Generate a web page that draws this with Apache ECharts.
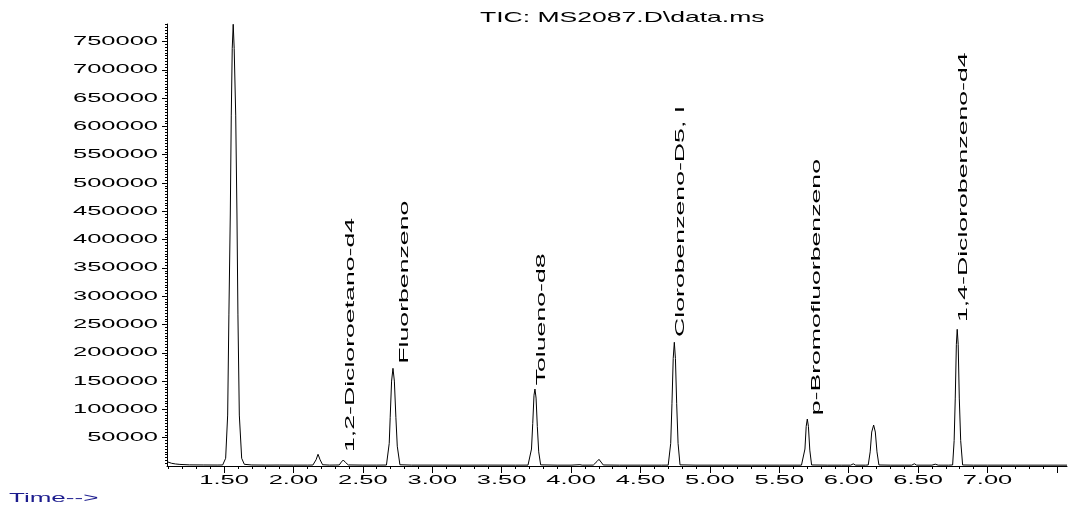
<!DOCTYPE html>
<html>
<head>
<meta charset="utf-8">
<script src="https://cdn.jsdelivr.net/npm/echarts@6/dist/echarts.min.js"></script>
<style>
  html, body { margin: 0; padding: 0; background: #fff; }
  #chart { width: 1069px; height: 506px; }
</style>
</head>
<body>
<div id="chart"></div>
<script>
// Total ion chromatogram, retention time (min) vs. abundance
const times = [
  1.089, 1.100, 1.122, 1.150, 1.182, 1.250, 1.350, 1.450, 1.490,
  1.500, 1.5115, 1.526, 1.535, 1.545, 1.552, 1.559, 1.566, 1.573, 1.584, 1.593, 1.600, 1.610, 1.627, 1.646, 1.700,
  1.800, 1.900, 2.000, 2.100, 2.140,
  2.148, 2.163, 2.177, 2.192, 2.210, 2.260, 2.300,
  2.330, 2.345, 2.359, 2.374, 2.395, 2.500, 2.600, 2.670,
  2.676, 2.690, 2.697, 2.707, 2.717, 2.727, 2.738, 2.748, 2.767, 2.850, 3.000, 3.200, 3.400, 3.600, 3.690,
  3.703, 3.715, 3.724, 3.733, 3.740, 3.748, 3.757, 3.767, 3.781, 3.900, 4.000, 4.064, 4.080, 4.160,
  4.172, 4.187, 4.201, 4.216, 4.232, 4.350, 4.500, 4.650, 4.700,
  4.707, 4.718, 4.727, 4.736, 4.744, 4.752, 4.761, 4.771, 4.785, 4.900, 5.100, 5.300, 5.500, 5.660,
  5.673, 5.685, 5.694, 5.702, 5.710, 5.720, 5.733, 5.850, 5.950, 6.015, 6.033, 6.050, 6.120,
  6.141, 6.155, 6.166, 6.180, 6.192, 6.204, 6.218, 6.300, 6.400, 6.455, 6.473, 6.490, 6.600, 6.624, 6.645, 6.720,
  6.749, 6.760, 6.768, 6.776, 6.782, 6.789, 6.797, 6.807, 6.821, 6.900, 7.000, 7.200, 7.400, 7.573
];
const abundance = [
  7600, 6500, 4800, 3600, 2800, 2000, 1800, 1700, 1800,
  2500, 13600, 90000, 267000, 443500, 620000, 738000, 780500, 738000, 620000, 443500, 267000, 90000, 13600, 3000, 1800,
  1600, 1700, 1600, 1600, 1700,
  2000, 11000, 20700, 11000, 2200, 1600, 1700,
  1800, 7000, 10600, 6500, 1900, 1600, 1600, 1700,
  2000, 40000, 86000, 150000, 172600, 150000, 86000, 35000, 2200, 1600, 1600, 1500, 1600, 1500, 1600,
  1900, 30000, 75000, 125000, 136000, 120000, 70000, 25000, 2000, 1500, 1500, 2300, 1500, 1600,
  1800, 8000, 11800, 7000, 1800, 1500, 1500, 1500, 1600,
  2000, 40000, 110000, 190000, 218600, 190000, 110000, 40000, 2000, 1500, 1500, 1500, 1500, 1500,
  1800, 30000, 70000, 83000, 70000, 28000, 1800, 1500, 1500, 1500, 3800, 1500, 1500,
  1800, 25000, 60000, 72400, 60000, 25000, 1800, 1500, 1500, 1500, 4000, 1500, 1500, 3200, 1500, 1500,
  1800, 45000, 120000, 215000, 241500, 215000, 120000, 45000, 1800, 1500, 1500, 1500, 1500, 1500
];

// Compound names and where each name starts (time, abundance)
const compoundNames = [
  '1,2-Dicloroetano-d4', 'Fluorbenzeno', 'Tolueno-d8',
  'Clorobenzeno-D5, I', 'p-Bromofluorbenzeno', '1,4-Diclorobenzeno-d4'
];
const compoundTimes = [2.364, 2.752, 3.738, 4.740, 5.722, 6.783];
const compoundLevels = [28300, 184300, 146100, 231500, 93100, 258000];

// Axis range and ticks
const timeMin = 1.089, timeMax = 7.573;
const abundanceMax = 781000;
const timeLabels = [1.5, 2.0, 2.5, 3.0, 3.5, 4.0, 4.5, 5.0, 5.5, 6.0, 6.5, 7.0];
const timeMajorTicks = [1.5, 2.0, 2.5, 3.0, 3.5, 4.0, 4.5, 5.0, 5.5, 6.0, 6.5, 7.0, 7.5];
const timeMinorTicks = [];
for (let k = 11; k <= 75; k++) timeMinorTicks.push(k / 10);
const abundanceTicks = [50000, 100000, 150000, 200000, 250000, 300000, 350000, 400000,
  450000, 500000, 550000, 600000, 650000, 700000, 750000];

const FONT = 'Liberation Sans';
const WIDE = 1.96;

const chart = echarts.init(document.getElementById('chart'), null, { renderer: 'canvas' });

const axisBlack = { color: '#000', width: 1 };

chart.setOption({
  animation: false,
  backgroundColor: '#fff',
  grid: { left: 167, right: 2, top: 24, bottom: 40, containLabel: false },
  graphic: [
    {
      type: 'text', x: 480, y: 10, scaleX: 1.83, silent: true,
      style: { text: 'TIC: MS2087.D\\data.ms', fill: '#000', fontFamily: FONT, fontSize: 14.5,
               align: 'left', verticalAlign: 'top' }
    },
    {
      type: 'text', x: 9, y: 492, scaleX: 2.0, silent: true,
      style: { text: 'Time-->', fill: '#1c1c8e', fontFamily: FONT, fontSize: 13,
               align: 'left', verticalAlign: 'top' }
    }
  ],
  xAxis: [
    {
      type: 'value', min: timeMin, max: timeMax,
      axisLine: { show: true, onZero: false, lineStyle: axisBlack },
      axisTick: { show: true, length: 7, lineStyle: axisBlack, customValues: timeMajorTicks },
      axisLabel: { show: false },
      splitLine: { show: false }
    },
    {
      type: 'value', min: timeMin, max: timeMax, position: 'bottom',
      axisLine: { show: false, onZero: false },
      axisTick: { show: true, length: 3, lineStyle: axisBlack, customValues: timeMinorTicks },
      axisLabel: { show: false },
      splitLine: { show: false }
    }
  ],
  yAxis: {
    type: 'value', min: 0, max: abundanceMax, interval: 50000,
    axisLine: { show: true, onZero: false, lineStyle: axisBlack },
    axisTick: { show: true, length: 5, lineStyle: axisBlack, customValues: abundanceTicks },
    minorTick: { show: true, splitNumber: 10, length: 2, lineStyle: axisBlack },
    axisLabel: { show: false },
    splitLine: { show: false },
    minorSplitLine: { show: false }
  },
  series: [
    {
      name: 'TIC',
      type: 'line',
      data: times.map((t, i) => [t, abundance[i]]),
      showSymbol: false,
      symbol: 'none',
      lineStyle: { color: '#000', width: 1 },
      silent: true,
      z: 3
    },
    {
      // abundance tick labels (wide lettering)
      type: 'custom',
      silent: true,
      data: abundanceTicks.map(v => [timeMin, v]),
      renderItem: function (params, api) {
        const p = api.coord([api.value(0), api.value(1)]);
        return {
          type: 'text', x: p[0] - 9, y: p[1], scaleX: WIDE,
          style: { text: String(api.value(1)), fill: '#000', fontFamily: FONT, fontSize: 13,
                   align: 'right', verticalAlign: 'middle' }
        };
      }
    },
    {
      // time tick labels
      type: 'custom',
      silent: true,
      data: timeLabels.map(t => [t, 0]),
      renderItem: function (params, api) {
        const p = api.coord([api.value(0), 0]);
        return {
          type: 'text', x: p[0], y: p[1] + 14, scaleX: WIDE,
          style: { text: api.value(0).toFixed(2), fill: '#000', fontFamily: FONT, fontSize: 13,
                   align: 'center', verticalAlign: 'middle' }
        };
      }
    },
    {
      // compound names, written upwards above their peaks
      type: 'custom',
      silent: true,
      data: compoundNames.map((n, i) => [compoundTimes[i], compoundLevels[i], i]),
      renderItem: function (params, api) {
        const p = api.coord([api.value(0), api.value(1)]);
        return {
          type: 'text', x: p[0], y: p[1] + 2, rotation: Math.PI / 2, scaleX: 2.05,
          style: { text: compoundNames[api.value(2)], fill: '#000', fontFamily: FONT, fontSize: 13,
                   align: 'left', verticalAlign: 'top' }
        };
      }
    }
  ]
});
</script>
</body>
</html>
